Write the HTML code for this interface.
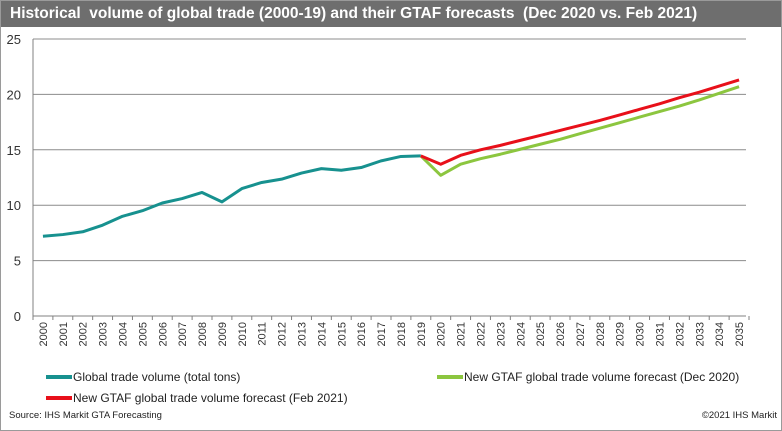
<!DOCTYPE html>
<html><head><meta charset="utf-8"><style>
body{margin:0;background:#fff;font-family:"Liberation Sans",Arial,sans-serif}
#wrap{position:relative;width:780px;height:429px;border:1px solid #9a9a9a;overflow:hidden}
#title{position:absolute;left:0;top:0;width:780px;height:26px;background:#6e6e6e;color:#fff;font-weight:bold;font-size:15.5px;line-height:26px;padding-left:9px;box-sizing:border-box;white-space:pre}
svg{position:absolute;left:0;top:0}
</style></head><body>
<div id="wrap">
<div id="title">Historical  volume of global trade (2000-19) and their GTAF forecasts  (Dec 2020 vs. Feb 2021)</div>
<svg id="c" width="782" height="431"></svg>
</div>
<script>
const years=[];for(let y=2000;y<=2035;y++)years.push(y);
const yTicks=[0,5,10,15,20,25];
const histYears=[2000,2001,2002,2003,2004,2005,2006,2007,2008,2009,2010,2011,2012,2013,2014,2015,2016,2017,2018,2019];
const histVals=[7.2,7.35,7.6,8.2,9.0,9.5,10.2,10.6,11.15,10.3,11.5,12.05,12.35,12.9,13.3,13.15,13.4,14.0,14.4,14.45];
const decYears=[2019,2020,2021,2022,2023,2024,2025,2026,2027,2028,2029,2030,2031,2032,2033,2034,2035];
const decVals=[14.45,12.7,13.7,14.2,14.6,15.05,15.5,15.95,16.45,16.95,17.45,17.95,18.45,18.95,19.5,20.1,20.7];
const febYears=[2019,2020,2021,2022,2023,2024,2025,2026,2027,2028,2029,2030,2031,2032,2033,2034,2035];
const febVals=[14.45,13.7,14.5,15.0,15.4,15.85,16.3,16.75,17.2,17.65,18.15,18.65,19.15,19.7,20.2,20.75,21.3];
const NS="http://www.w3.org/2000/svg",svg=document.getElementById('c');
const X0=32,X1=748,Y0=315,Y1=38;
const xs=y=>X0+(y-2000+0.5)*(X1-X0)/years.length;
const ys=v=>Y0-(v/25)*(Y0-Y1);
function mk(t,a,p){const e=document.createElementNS(NS,t);for(const k in a)e.setAttribute(k,a[k]);(p||svg).appendChild(e);return e;}
yTicks.forEach(t=>{
 const l=mk('line',{x1:X0,x2:745,y1:ys(t),y2:ys(t),stroke:t?'#8c8c8c':'#808080','stroke-width':1});
 
 
 const tx=mk('text',{x:20,y:ys(t)+5,'text-anchor':'end','font-size':13,fill:'#333'});tx.textContent=t;
 
 
});
const ya=mk('line',{x1:X0,x2:X0,y1:Y1,y2:Y0+4,stroke:'#808080'});


years.forEach(y=>{
 const bx=X0+(y-2000)*(X1-X0)/years.length;
 mk('line',{x1:bx,x2:bx,y1:Y0,y2:Y0+4,stroke:'#808080'});
 const tx=mk('text',{transform:`translate(${xs(y)+4},${Y0+6}) rotate(-90)`,'text-anchor':'end','font-size':11,fill:'#333'});tx.textContent=y;
 
 
});
mk('line',{x1:X1,x2:X1,y1:Y0,y2:Y0+4,stroke:'#808080'});
function series(ys_,vs,col,name){
 const p=mk('polyline',{points:ys_.map((y,i)=>xs(y)+','+ys(vs[i])).join(' '),fill:'none',stroke:col,'stroke-width':3,'stroke-linejoin':'round'});
 
 
}
series(histYears,histVals,'#17918f','series-global-trade-volume');
series(decYears,decVals,'#8cc63f','series-forecast-dec-2020');
series(febYears,febVals,'#e8101a','series-forecast-feb-2021');
function leg(x,y,col,txt,name){
 const g=mk('g',{});
 
 
 mk('line',{x1:x,x2:x+26,y1:y,y2:y,stroke:col,'stroke-width':4},g);
 const t=mk('text',{x:x+27,y:y+4,'font-size':12,fill:'#222'},g);t.textContent=txt;
}
leg(45,376,'#17918f','Global trade volume (total tons)','legend-global-trade');
leg(436,376,'#8cc63f','New GTAF global trade volume forecast (Dec 2020)','legend-dec-2020');
leg(45,397,'#e8101a','New GTAF global trade volume forecast (Feb 2021)','legend-feb-2021');
const s=mk('text',{x:8,y:417,'font-size':9.5,fill:'#222'});s.textContent='Source: IHS Markit GTA Forecasting';


const c=mk('text',{x:776,y:417,'font-size':9.5,fill:'#222','text-anchor':'end'});c.textContent='©2021 IHS Markit';


</script>
</body></html>
